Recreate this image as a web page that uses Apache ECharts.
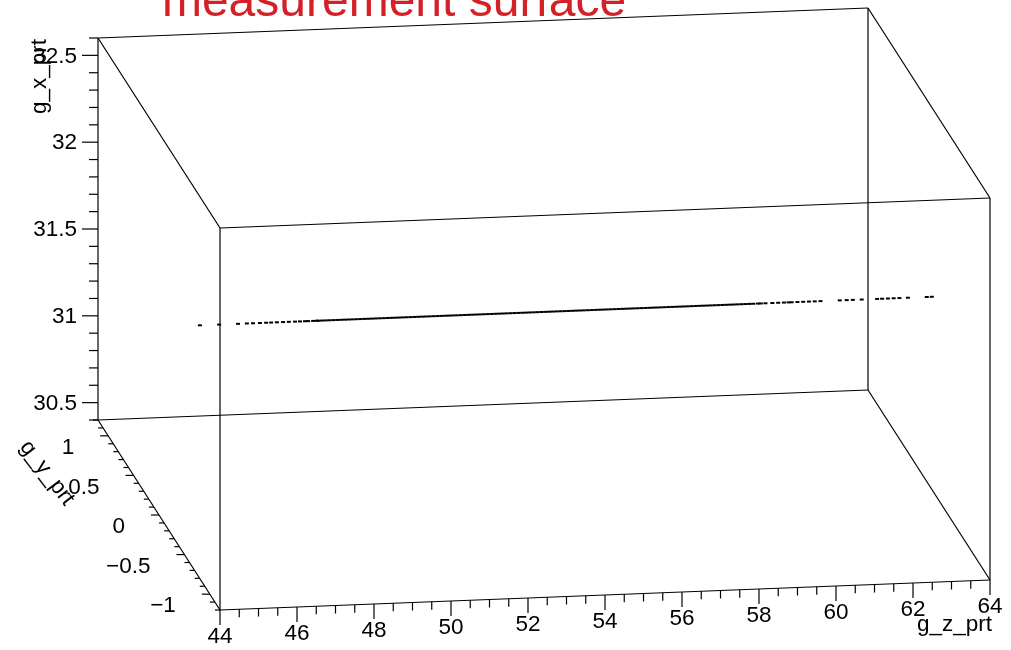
<!DOCTYPE html>
<html><head><meta charset="utf-8">
<script src="https://cdn.jsdelivr.net/npm/echarts@6/dist/echarts.min.js"></script>
<style>html,body{margin:0;padding:0;background:#fff}#c{width:1011px;height:650px}</style>
</head><body><div id="c"></div>
<script>
// ---- data ----
const titleText = 'measurement surface';
const zName = 'g_z_prt', gxName = 'g_x_prt', gyName = 'g_y_prt';
const zRange = [44, 64];
const gxRange = [30.4, 32.6];
const gyRange = [-1.2, 1.2];
const zTickLabels = [44, 46, 48, 50, 52, 54, 56, 58, 60, 62, 64];
const gxTickLabels = [30.5, 31, 31.5, 32, 32.5];
const gyTickLabels = [1, 0.5, 0, -0.5, -1];
const zMinorStep = 0.5, gxMinorStep = 0.1, gyMinorStep = 0.1;
const pointZ = [
  44.93, 45.43, 45.92, 46.15, 46.31, 46.49, 46.65, 46.78, 46.93,
  47.09, 47.24, 47.40, 47.53, 47.66, 47.74, 47.87, 47.97,
  48.0, 48.1, 48.2, 48.3, 48.4, 48.5, 48.6, 48.7, 48.8, 48.9,
  49.0, 49.1, 49.2, 49.3, 49.4, 49.5, 49.6, 49.7, 49.8, 49.9,
  50.0, 50.1, 50.2, 50.3, 50.4, 50.5, 50.6, 50.7, 50.8, 50.9,
  51.0, 51.1, 51.2, 51.3, 51.4, 51.5, 51.6, 51.7, 51.8, 51.9,
  52.0, 52.1, 52.2, 52.3, 52.4, 52.5, 52.6, 52.7, 52.8, 52.9,
  53.0, 53.1, 53.2, 53.3, 53.4, 53.5, 53.6, 53.7, 53.8, 53.9,
  54.0, 54.1, 54.2, 54.3, 54.4, 54.5, 54.6, 54.7, 54.8, 54.9,
  55.0, 55.1, 55.2, 55.3, 55.4, 55.5, 55.6, 55.7, 55.8, 55.9,
  56.0, 56.1, 56.2, 56.3, 56.4, 56.5, 56.6, 56.7, 56.8, 56.9,
  57.0, 57.1, 57.2, 57.3, 57.4, 57.5, 57.6, 57.7, 57.8, 57.9,
  58.0, 58.1, 58.2, 58.3, 58.4, 58.5, 58.6, 58.7, 58.8, 58.9,
  59.0, 59.1, 59.2, 59.3,
  59.42, 59.5, 59.62, 59.8, 59.95, 60.1, 60.22, 60.3,
  60.45, 60.6, 60.75, 60.9, 61.05,
  61.55, 61.73, 61.89, 62.12,
  62.52, 62.65, 62.8, 62.95, 63.1, 63.32,
  63.81, 63.94
];
const pointGx = pointZ.map(() => 31.53);
const pointGy = pointZ.map(() => -0.1);

// ---- layout of the 3D projection ----
const SLANT = 30;            // px the z axis rises across its length
const DEPTH = [-122, -190];  // px offset from front (gy min) to back (gy max)
const FONT = '22.5px "Liberation Sans", Arial, sans-serif';
const LW = 1.2;

function proj(api, z, gy, gx) {
  const p = api.coord([z, gx]);
  const fz = (z - zRange[0]) / (zRange[1] - zRange[0]);
  const fy = (gy - gyRange[0]) / (gyRange[1] - gyRange[0]);
  return [p[0] + DEPTH[0] * fy, p[1] - SLANT * fz + DEPTH[1] * fy];
}
function fmt(v) { return v < 0 ? '\u2212' + Math.abs(v) : String(v); }
function ln(a, b) {
  return { type: 'line', shape: { x1: a[0], y1: a[1], x2: b[0], y2: b[1] },
           style: { stroke: '#000', lineWidth: LW } };
}
function txt(s, x, y, align, extra) {
  return Object.assign({ type: 'text', x: x, y: y,
    style: { text: s, x: 0, y: 0, align: align, verticalAlign: 'middle', font: FONT, fill: '#000' } }, extra || {});
}
function steps(r, step) {
  const out = [];
  for (let k = Math.ceil(r[0] / step - 1e-9); k <= Math.floor(r[1] / step + 1e-9); k++) out.push(+(k * step).toFixed(6));
  return out;
}
function isIn(arr, v) { return arr.some(a => Math.abs(a - v) < 1e-6); }

function renderFrame(params, api) {
  if (params.dataIndex !== 0) return;
  const [z0, z1] = zRange, [x0, x1] = gxRange, [y0, y1] = gyRange;
  const P = (z, gy, gx) => proj(api, z, gy, gx);
  const ch = [];
  // 12 box edges
  [[y0], [y1]].forEach(([g]) => {
    ch.push(ln(P(z0, g, x0), P(z1, g, x0)));
    ch.push(ln(P(z0, g, x1), P(z1, g, x1)));
    ch.push(ln(P(z0, g, x0), P(z0, g, x1)));
    ch.push(ln(P(z1, g, x0), P(z1, g, x1)));
  });
  [[z0, x0], [z0, x1], [z1, x0], [z1, x1]].forEach(([z, x]) => ch.push(ln(P(z, y0, x), P(z, y1, x))));
  // gx axis: back-left vertical edge
  steps(gxRange, gxMinorStep).forEach(v => {
    const p = P(z0, y1, v), major = isIn(gxTickLabels, v);
    ch.push(ln(p, [p[0] - (major ? 16 : 9), p[1]]));
  });
  gxTickLabels.forEach(v => { const p = P(z0, y1, v); ch.push(txt(fmt(v), p[0] - 21, p[1] + 1, 'right')); });
  // z axis: front-bottom edge
  steps(zRange, zMinorStep).forEach(v => {
    const p = P(v, y0, x0), major = isIn(zTickLabels, v);
    ch.push(ln(p, [p[0], p[1] + (major ? 15 : 8)]));
  });
  zTickLabels.forEach(v => { const p = P(v, y0, x0); ch.push(txt(fmt(v), p[0], p[1] + 27, 'center')); });
  // gy axis: left-bottom depth edge
  steps(gyRange, gyMinorStep).forEach(v => {
    const p = P(z0, v, x0), major = isIn(gyTickLabels, v);
    ch.push(ln(p, [p[0] - (major ? 8 : 5), p[1]]));
  });
  gyTickLabels.forEach(v => { const p = P(z0, v, x0); ch.push(txt(fmt(v), p[0] - 34, p[1] + 12, 'right')); });
  // axis titles
  const pz = P(z1, y0, x0);
  ch.push(txt(zName, pz[0] + 2, pz[1] + 45, 'right'));
  const pgx = P(z0, y1, x1);
  ch.push(txt(gxName, pgx[0] - 58, pgx[1] + 1, 'right', { rotation: Math.PI / 2 }));
  const pgy = P(z0, 0, x0);
  ch.push(txt(gyName, pgy[0] - 112, pgy[1] - 42, 'center', { rotation: -0.92 }));
  return { type: 'group', children: ch };
}

function renderPoint(params, api) {
  const p = proj(api, api.value(0), api.value(2), api.value(1));
  return { type: 'rect', shape: { x: p[0] - 2, y: p[1] - 1, width: 4, height: 2 }, style: { fill: '#000' } };
}

const chart = echarts.init(document.getElementById('c'), null, { renderer: 'canvas' });
chart.setOption({
  animation: false,
  backgroundColor: '#fff',
  grid: { left: 220, top: 228, width: 770, height: 382 },
  xAxis: { type: 'value', min: zRange[0], max: zRange[1], show: false },
  yAxis: { type: 'value', min: gxRange[0], max: gxRange[1], show: false },
  graphic: [{ type: 'text', x: 394, y: 3,
    style: { text: titleText, align: 'center', verticalAlign: 'middle',
             font: '48px "Liberation Sans", Arial, sans-serif', fill: '#d42027' } }],
  series: [
    { type: 'custom', renderItem: renderFrame, data: [[zRange[0], gxRange[0]]], silent: true, clip: false },
    { type: 'custom', renderItem: renderPoint, clip: false,
      data: pointZ.map((z, i) => [z, pointGx[i], pointGy[i]]) }
  ]
});
</script></body></html>
